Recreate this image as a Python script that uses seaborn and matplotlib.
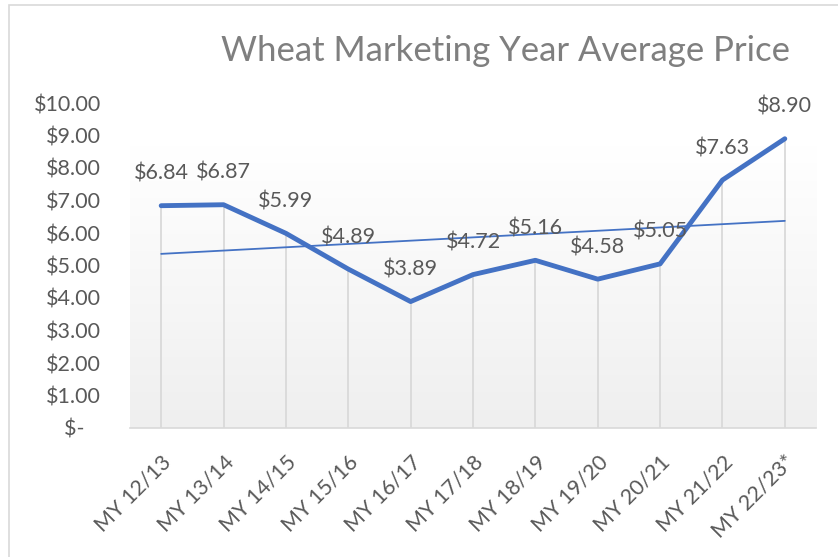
import matplotlib

matplotlib.use("Agg")

import matplotlib.pyplot as plt
import numpy as np
import pandas as pd
import seaborn as sns
from matplotlib.colors import LinearSegmentedColormap
from matplotlib.patches import Rectangle

seasons = ["MY 12/13", "MY 13/14", "MY 14/15", "MY 15/16", "MY 16/17", "MY 17/18",
           "MY 18/19", "MY 19/20", "MY 20/21", "MY 21/22", "MY 22/23*"]
prices = [6.84, 6.87, 5.99, 4.89, 3.89, 4.72, 5.16, 4.58, 5.05, 7.63, 8.90]
y_ticks = [0, 1, 2, 3, 4, 5, 6, 7, 8, 9, 10]

BLUE = "#4472C4"
TEXT = "#595959"

sns.set_style("white")
plt.rcParams["font.family"] = ["Lato", "DejaVu Sans"]

df = pd.DataFrame({"pos": np.arange(len(seasons)), "season": seasons, "price": prices})

fig = plt.figure(figsize=(8.38, 5.57), dpi=100)
ax = fig.add_axes([130 / 838, 1 - 428 / 557, 686 / 838, 325 / 557])

# chart frame (light gray border)
fig.patches.append(Rectangle((9 / 838, -0.1), 1.2, 1 - 5 / 557 + 0.1, transform=fig.transFigure,
                             fill=False, edgecolor="#d9d9d9", linewidth=1.2))

# plot-area gradient fill
grad = np.linspace(1.0, 0.0, 256).reshape(-1, 1)
ax.imshow(grad, extent=(-0.5, 10.5, 0, 8.7), aspect="auto",
          cmap=LinearSegmentedColormap.from_list("g", ["#efefef", "#ffffff"]),
          vmin=0, vmax=1, zorder=0, origin="upper")

# drop lines
ax.vlines(df["pos"], 0, df["price"], color="#d9d9d9", linewidth=1.3, zorder=1)

sns.regplot(data=df, x="pos", y="price", scatter=False, ci=None, ax=ax,
            line_kws={"color": BLUE, "linewidth": 1.3, "zorder": 2})
sns.lineplot(data=df, x="pos", y="price", ax=ax, color=BLUE, linewidth=3.5, zorder=3)

for x, y in zip(df["pos"], df["price"]):
    ax.annotate(f"${y:.2f}", (x, y), xytext=(0, 23), textcoords="offset points",
                ha="center", va="center", fontsize=15.5, color=TEXT, zorder=4)

ax.set_xlim(-0.5, 10.5)
ax.set_ylim(0, 10)
ax.set_yticks(y_ticks)
ax.set_yticklabels([f"${v:.2f}" if v else "$-   " for v in y_ticks])
ax.set_xticks(df["pos"])
ax.set_xticklabels(seasons, rotation=45, ha="right", rotation_mode="anchor")
ax.tick_params(axis="y", length=0, pad=21, labelsize=15.5, labelcolor=TEXT)
ax.tick_params(axis="x", length=0, pad=17, labelsize=15.5, labelcolor=TEXT)
ax.set_xlabel("")
ax.set_ylabel("")
for side in ["left", "top", "right"]:
    ax.spines[side].set_visible(False)
ax.spines["bottom"].set_color("#d9d9d9")
ax.spines["bottom"].set_linewidth(1.2)

fig.text(505 / 838, 1 - 51 / 557, "Wheat Marketing Year Average Price", ha="center", va="center",
         fontsize=25, color="#7f7f7f")

fig.savefig("out.png", dpi=100)
